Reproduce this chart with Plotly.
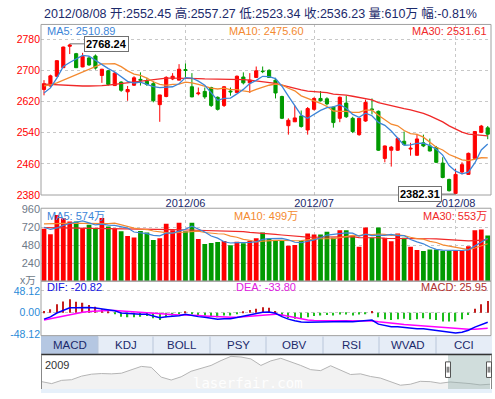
import plotly.graph_objects as go

FONT = "Liberation Sans, Arial, Noto Sans CJK SC, sans-serif"
W, H = 495, 399
def px(x): return x / W
def py(y): return 1 - y / H

# ---------------- data ----------------
may_days = [2,3,4,7,8,9,10,11,14,15,16,17,18,21,22,23,24,25,28,29,30,31]
jun_days = [1,4,5,6,7,8,11,12,13,14,15,18,19,20,21,25,26,27,28,29]
jul_days = [2,3,4,5,6,9,10,11,12,13,16,17,18,19,20,23,24,25,26,27,30,31]
aug_days = [1,2,3,6,7,8]
dates = ([f"2012-05-{d:02d}" for d in may_days] + [f"2012-06-{d:02d}" for d in jun_days] +
         [f"2012-07-{d:02d}" for d in jul_days] + [f"2012-08-{d:02d}" for d in aug_days])

open_ = [2651,2660,2685,2707,2762,2743,2709,2732,2737,2687,
         2699,2661,2670,2645,2662,2677,2672,2666,2612,2633,
         2678,2675,2702,2658,2640,2646,2656,2631,2610,2647,
         2643,2683,2668,2682,2698,2700,2675,2633,2558,2568,
         2583,2547,2600,2628,2627,2606,2577,2616,2577,2535,
         2570,2601,2595,2474,2495,2495,2518,2498,2482,2514,
         2506,2502,2462,2420,2384,2439,2433,2474,2541,2552.45]
high = [2675,2689,2726,2761,2768.24,2745,2745,2737,2741,2704,
        2701,2696,2672,2660,2685,2695,2681,2672,2637,2685,
        2693,2716,2718,2693,2656,2656,2658,2633,2660,2656,
        2687,2695,2693,2710,2710,2703,2681,2635,2577,2610,
        2597,2606,2631,2647,2631,2607,2633,2635,2581,2578,
        2625,2628,2597,2507,2506,2529,2543,2514,2537,2535,
        2525,2506,2477,2422,2447,2464,2489,2543,2560,2557.27]
low = [2636,2658,2683,2706,2742,2706,2708,2712,2702,2668,
       2661,2660,2645,2622,2660,2661,2660,2618,2568,2631,
       2675,2675,2681,2631,2636,2627,2606,2597,2606,2635,
       2642,2664,2642,2681,2693,2681,2628,2575,2535,2568,
       2553,2535,2597,2620,2610,2553,2567,2578,2539,2532,
       2568,2587,2493,2464,2453,2493,2508,2481,2481,2503,
       2492,2462,2423,2389,2382.31,2433,2432,2472,2539,2523.34]
close = [2666,2686,2725,2760,2765,2707,2736,2714,2706,2703,
         2664,2693,2649,2651,2681,2675,2664,2622,2637,2682,
         2685,2703,2700,2632,2642,2632,2610,2600,2658,2645,
         2685,2668,2675,2699,2697,2682,2642,2577,2572,2578,
         2556,2602,2628,2622,2614,2566,2631,2581,2543,2577,
         2618,2599,2495,2506,2503,2525,2510,2500,2524,2506,
         2493,2464,2425,2391,2433,2458,2487,2543,2557,2536.23]
ma5 = [2642,2655,2680,2710,2720.4,2728.6,2738.6,2736.4,2725.6,2713.2,
       2704.6,2696,2683,2672,2667.6,2669.8,2664,2658.6,2655.8,2656,
       2658,2665.8,2681.4,2680.4,2672.4,2661.8,2643.2,2623.2,2628.4,2629,
       2639.6,2651.2,2666.2,2674.4,2684.8,2684.2,2679,2659.4,2634,2610.2,
       2585,2577,2587.2,2597.2,2604.4,2606.4,2612.2,2602.8,2587,2579.6,
       2590,2583.6,2566.4,2559,2544.2,2525.6,2507.8,2508.8,2512.4,2513,
       2506.6,2497.4,2482.4,2455.8,2441.2,2434.2,2438.8,2462.4,2495.6,2510.89]
ma10 = [2660,2663,2668,2675,2682,2690,2697,2703,2710,2716.8,
        2716.6,2717.3,2709.7,2698.8,2690.4,2687.2,2680,2670.8,2663.9,2661.8,
        2663.9,2664.9,2670,2668.1,2664.2,2659.9,2654.5,2652.3,2654.4,2650.7,
        2650.7,2647.2,2644.7,2651.4,2656.9,2661.9,2665.1,2662.8,2654.2,2647.5,
        2634.6,2628,2623.3,2615.6,2607.3,2595.7,2594.6,2595,2592.1,2592,
        2598.2,2597.9,2584.6,2573,2561.9,2557.8,2545.7,2537.6,2535.7,2528.6,
        2516.1,2502.6,2495.6,2484.1,2477.1,2470.4,2468.1,2472.4,2475.7,2475.60]
ma30 = [2665,2664,2663,2662,2661,2660,2660,2660,2660,2661,
        2662,2664,2666,2668,2671,2673,2675,2677,2679,2680,
        2680,2680,2680,2679,2679,2678,2678,2677,2677,2676.4,
        2677.1,2676.5,2674.8,2672.8,2670.5,2669.7,2666.5,2662,2657.5,2653.3,
        2649.7,2646.7,2646,2645,2642.8,2639.2,2638.1,2636.7,2633.6,2630.1,
        2627.8,2624.4,2617.5,2613.3,2608.7,2605.1,2601.8,2598.5,2594,2589.4,
        2583,2576.2,2567.8,2557.6,2548.8,2541.3,2536.1,2535,2534.5,2531.61]

volume = [700,627,882,839,795,795,709,752,700,843,
          730,700,666,601,584,670,648,549,571,765,
          679,778,666,778,562,497,510,523,536,480,
          527,505,540,571,648,570,536,536,471,484,
          536,635,622,622,661,579,678,678,605,458,
          717,579,717,579,531,635,579,458,415,402,
          423,423,406,406,406,406,467,678,691,610]
vol_ma5 = [720,690,710,745,769,788,804,778,750,760,
           747,745,728,708,656,644,634,610,604,641,
           642,668,692,733,693,656,603,574,526,509,
           515,514,518,525,558,567,573,572,552,519,
           513,532,550,580,615,624,632,644,640,600,
           627,607,615,610,625,608,608,556,524,498,
           455,424,414,412,413,409,418,473,530,574]
vol_ma10 = [765,768,770,772,775,775,772,770,766,764,
            767,775,753,729,708,696,689,669,656,648,
            643,651,651,669,667,649,636,633,629,601,
            586,558,546,525,534,541,544,545,538,539,
            540,553,561,566,567,568,582,597,610,607,
            626,620,629,625,612,618,608,586,567,561,
            532,516,485,468,455,432,421,443,471,499]
vol_ma30 = [715,714,713,712,712,711,710,709,708,707,
            706,705,704,702,700,698,696,694,692,690,
            688,686,684,682,680,678,676,675,673,671,
            665,661,650,641,636,629,623,616,608,596,
            590,587,586,587,589,586,587,591,593,582,
            584,577,579,572,571,576,578,576,572,569,
            566,563,558,553,545,539,537,542,549,553]

macd_hist = [4,8,19,25,30,24,22,17,13,8,
             3,-1,-9,-10,-10,-9,-7,-12,-16,-10,
             -6,-3,3,-3,-5,-6,-9,-10,-6,-6,
             -1,3,6,9,12,11,4,-7,-12,-13,
             -13,-10,-7,-6,-5,-6,-4,-4,-6,-4,
             -1,4,-10,-14,-16,-14,-13,-16,-14,-12,
             -14,-16,-19,-19,-19,-14,-5,9,19,25.95]
dea = [-16,-13,-10,-7,-4,-1,1,3,4,5,
       5,5,4,3,2,1,0,-1,-3,-4,
       -5,-5,-5,-5,-6,-7,-8,-9,-10,-10,
       -10,-9,-8,-7,-5,-4,-3,-5,-8,-11,
       -14,-16,-17,-17,-17,-17,-17,-17,-17,-17,
       -17,-18,-20,-21,-23,-24,-26,-27,-28,-29,
       -30,-31,-32,-34,-35,-36,-36,-36,-35,-33.80]
dif = [-14,-9,-0.5,5.5,11,11,12,11.5,10.5,9,
       6.5,4.5,-0.5,-2,-3,-3.5,-3.5,-7,-11,-9,
       -8,-6.5,-3.5,-6.5,-8.5,-10,-12.5,-14,-13,-13,
       -10.5,-7.5,-5,-2.5,1,1.5,-1,-8.5,-14,-17.5,
       -20.5,-21,-20.5,-20,-19.5,-20,-19,-19,-20,-19,
       -17.5,-16,-25,-28,-31,-31,-32.5,-35,-35,-35,
       -37,-39,-41.5,-43.5,-44.5,-43,-38.5,-31.5,-25.5,-20.82]

overview = [2520,2424,2584,2616,2792,2888,2920,2904,2936,3112,
            3272,3224,2744,2600,2760,3032,3192,3320,3560,3768,
            3736,3640,3320,3544,3672,3512,3320,3112,3064,3304,
            3080,2872,2904,2776,2696,2520,2344,2392,2536,2520,
            2440,2504,2472,2424,2360,2392]

month_ticks = ["2012-06-01", "2012-07-02", "2012-08-01"]
month_labels = ["2012/06", "2012/07", "2012/08"]
price_ticks = [2380, 2460, 2540, 2620, 2700, 2780]
vol_ticks = [240, 480, 720, 960]
vol_unit_label = "x万"
macd_ticks = [-48.12, 0, 48.12]
macd_tick_labels = ["-48.12", "0.00", "48.12"]
tabs = ["MACD", "KDJ", "BOLL", "PSY", "OBV", "RSI", "WVAD", "CCI"]
header = "2012/08/08 开:2552.45 高:2557.27 低:2523.34 收:2536.23 量:610万 幅:-0.81%"

# ---------------- colours ----------------
RED, GREEN = "#FF0000", "#009A00"
C_MA5, C_MA10, C_MA30 = "#3D85D8", "#F48A30", "#F02828"
NAVY = "#1B2A6B"
GRID = "#C8C8C8"
BORDER = "#A0A0A0"

fig = go.Figure()

# price panel
fig.add_trace(go.Candlestick(
    x=dates, open=open_, high=high, low=low, close=close,
    increasing=dict(line=dict(color=RED, width=1), fillcolor=RED),
    decreasing=dict(line=dict(color=GREEN, width=1), fillcolor=GREEN),
    whiskerwidth=0, xaxis="x", yaxis="y", showlegend=False, hoverinfo="skip"))
for s, c in [(ma30, C_MA30), (ma10, C_MA10), (ma5, C_MA5)]:
    fig.add_trace(go.Scatter(x=dates, y=s, mode="lines", line=dict(color=c, width=1.3),
                             xaxis="x", yaxis="y", showlegend=False, hoverinfo="skip"))

# volume panel
vol_colors = [RED if c >= o else GREEN for o, c in zip(open_, close)]
fig.add_trace(go.Bar(x=dates, y=volume, marker=dict(color=vol_colors, line=dict(width=0)),
                     width=0.74, xaxis="x2", yaxis="y2", showlegend=False, hoverinfo="skip"))
for s, c in [(vol_ma30, C_MA30), (vol_ma10, C_MA10), (vol_ma5, C_MA5)]:
    fig.add_trace(go.Scatter(x=dates, y=s, mode="lines", line=dict(color=c, width=1.2),
                             xaxis="x2", yaxis="y2", showlegend=False, hoverinfo="skip"))

# MACD panel
hist_colors = ["#C41E1E" if v >= 0 else "#1DBE1D" for v in macd_hist]
fig.add_trace(go.Bar(x=dates, y=macd_hist, marker=dict(color=hist_colors, line=dict(width=0)),
                     width=0.2, xaxis="x3", yaxis="y3", showlegend=False, hoverinfo="skip"))
fig.add_trace(go.Scatter(x=dates, y=dea, mode="lines", line=dict(color="#FF00FF", width=1.5),
                         xaxis="x3", yaxis="y3", showlegend=False, hoverinfo="skip"))
fig.add_trace(go.Scatter(x=dates, y=dif, mode="lines", line=dict(color="#0000FF", width=1.5),
                         xaxis="x3", yaxis="y3", showlegend=False, hoverinfo="skip"))

# navigator
fig.add_trace(go.Scatter(x=list(range(len(overview))), y=overview, mode="lines",
                         line=dict(color="#B4B4B4", width=1), fill="tozeroy",
                         fillcolor="#F2F2F2", xaxis="x4", yaxis="y4",
                         showlegend=False, hoverinfo="skip"))

XR = [-0.467, 69.51]
XD = [px(41), px(491)]
gridstyle = dict(gridcolor=GRID, griddash="3px,3px", gridwidth=1)

fig.update_layout(
    width=W, height=H, margin=dict(l=0, r=0, t=0, b=0),
    paper_bgcolor="white", plot_bgcolor="rgba(0,0,0,0)",
    font=dict(family=FONT), boxgap=0.3, showlegend=False,
    xaxis=dict(domain=XD, anchor="y", type="category", range=XR, rangeslider=dict(visible=False),
               tickvals=month_ticks, ticktext=month_labels, showgrid=True, **gridstyle,
               tickfont=dict(size=11, color=NAVY, family=FONT), ticks="", zeroline=False,
               showline=False),
    yaxis=dict(domain=[py(195.4), py(20)], anchor="x", range=[2380, 2818],
               tickvals=price_ticks, showgrid=True, **gridstyle,
               tickfont=dict(size=10.5, color="#FF0000", family=FONT), ticks="", zeroline=False),
    xaxis2=dict(domain=XD, anchor="y2", type="category", range=XR,
                tickvals=month_ticks, showticklabels=False, showgrid=True, **gridstyle,
                ticks="", zeroline=False),
    yaxis2=dict(domain=[py(284), py(209)], anchor="x2", range=[0, 973],
                tickvals=vol_ticks, showgrid=True, **gridstyle,
                tickfont=dict(size=11, color="#6F7A88", family=FONT), ticks="", zeroline=False),
    xaxis3=dict(domain=XD, anchor="y3", type="category", range=XR, showticklabels=False,
                showgrid=False, ticks="", zeroline=False),
    yaxis3=dict(domain=[py(340), py(284)], anchor="x3", range=[-50.3, 69.5],
                tickvals=macd_ticks, ticktext=macd_tick_labels, showgrid=True, **gridstyle,
                tickfont=dict(size=10.5, color="#2A8AD8", family=FONT), ticks="", zeroline=False),
    xaxis4=dict(domain=[px(41), px(492)], anchor="y4", range=[-0.07, 45.2], visible=False),
    yaxis4=dict(domain=[py(395), py(359.3)], anchor="x4", range=[2152, 3864], visible=False),
)

shapes = []
def rect(x0, y0, x1, y1, line="#A0A0A0", fill=None, lw=1, layer="above"):
    d = dict(type="rect", xref="paper", yref="paper", x0=px(x0), x1=px(x1), y0=py(y1), y1=py(y0),
             line=dict(color=line, width=lw), layer=layer)
    if fill:
        d["fillcolor"] = fill
    if line is None:
        d["line"] = dict(width=0)
    shapes.append(d)

def hline(x0, x1, y, color, lw=1):
    shapes.append(dict(type="line", xref="paper", yref="paper", x0=px(x0), x1=px(x1),
                       y0=py(y), y1=py(y), line=dict(color=color, width=lw)))

def vline(x, y0, y1, color, lw=1):
    shapes.append(dict(type="line", xref="paper", yref="paper", x0=px(x), x1=px(x),
                       y0=py(y0), y1=py(y1), line=dict(color=color, width=lw)))

rect(41, 20, 491, 195.4, line=BORDER)
rect(41, 209, 491, 284, line=BORDER)
rect(41, 284, 491, 340, line=BORDER)

# tab bar
tab_edges = [41, 98, 153, 210, 266, 323, 379, 436, 492]
rect(41, 340, 492, 359, line=None, fill="#E6EDF7", layer="below")
rect(41, 340, 98, 359, line=None, fill="#B5C7E2", layer="below")
for e in tab_edges[1:-1]:
    vline(e, 341, 359, "#B9C6DA")
hline(41, 492, 359, "#B9C6DA")

# navigator
rect(448, 359.5, 490, 395, line=None, fill="rgba(150,180,178,0.45)")
hline(41, 492, 359.5, "#333333", 1.5)
vline(41.5, 359.5, 395, "#888888")
vline(491.5, 359.5, 395, "#888888")
rect(41, 395, 492, 399, line=None, fill="#E6F0FA")
for hx in (448, 489):
    rect(hx - 2.5, 367, hx + 2.5, 383, line="#555555", fill="white")
    vline(hx - 0.8, 372, 378, "#555555")
    vline(hx + 0.8, 372, 378, "#555555")

fig.update_layout(shapes=shapes)

ann = []
def text(x, y, s, color, size=11, anchor="left", bold=False, family=FONT):
    ann.append(dict(xref="paper", yref="paper", x=px(x), y=py(y), text=(f"<b>{s}</b>" if bold else s),
                    showarrow=False, xanchor=anchor, yanchor="middle",
                    font=dict(color=color, size=size, family=family)))

text(260, 8.5, header, NAVY, size=12.5, anchor="center")
text(45, 26.7, f"MA5: {ma5[-1]:.2f}", C_MA5)
text(266, 26.7, f"MA10: {ma10[-1]:.2f}", C_MA10, anchor="center")
text(489, 26.7, f"MA30: {ma30[-1]:.2f}", C_MA30, anchor="right")
text(45, 216.5, f"MA5: {vol_ma5[-1]}万", C_MA5)
text(266, 216.5, f"MA10: {vol_ma10[-1]}万", C_MA10, anchor="center")
text(489, 216.5, f"MA30: {vol_ma30[-1]}万", C_MA30, anchor="right")
text(38, 282.5, vol_unit_label, "#6F7A88", size=10.5, anchor="right")
text(45, 290.5, f"DIF: {dif[-1]:.2f}", "#1010E0")
text(266, 290.5, f"DEA: {dea[-1]:.2f}", "#E020E0", anchor="center")
text(489, 290.5, f"MACD: {macd_hist[-1]:.2f}", "#B03030", anchor="right")
for i, t in enumerate(tabs):
    text((tab_edges[i] + tab_edges[i + 1]) / 2, 349.5, t, NAVY, size=11.5, anchor="center")
text(43, 370, "2009", "#333333", size=11)
text(248, 389, "laserfair.com", "rgba(255,255,255,0.95)", size=14, anchor="center",
     family="DejaVu Sans Mono")

imax = max(range(len(high)), key=lambda i: high[i])
imin = min(range(len(low)), key=lambda i: low[i])
for i, val, axo in [(imax, high[imax], 37), (imin, low[imin], -35.5)]:
    ann.append(dict(x=dates[i], y=val, xref="x", yref="y", text=f"<b>{val:.2f}</b>",
                    showarrow=True, arrowhead=0, arrowwidth=1, arrowcolor="#707070",
                    ax=axo, ay=0, bordercolor="#707070", borderwidth=1, borderpad=1,
                    bgcolor="white", font=dict(size=11, color="black", family=FONT)))

fig.update_layout(annotations=ann)
fig.write_html("out.html", config={"displayModeBar": False},
               post_script="document.body.style.margin='0px';")
